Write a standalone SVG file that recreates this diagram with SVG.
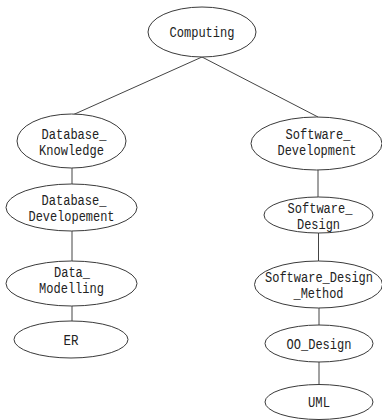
<svg xmlns="http://www.w3.org/2000/svg" width="382" height="420" viewBox="0 0 382 420">
<style>
  .n ellipse { fill: #ffffff; stroke: #3a3a3a; stroke-width: 1; }
  .n text { font-family: "Liberation Mono", "DejaVu Sans Mono", monospace; font-size: 14px; fill: #222222; text-anchor: middle; }
  #edges line { stroke: #444444; stroke-width: 1; }
</style>
<rect width="382" height="420" fill="#ffffff"/>
<g id="edges">
  <line x1="202" y1="57" x2="72.5" y2="115"/>
  <line x1="202" y1="57" x2="318" y2="117"/>
  <line x1="72" y1="168" x2="72" y2="184"/>
  <line x1="72" y1="231" x2="72" y2="261"/>
  <line x1="72" y1="306" x2="72" y2="321"/>
  <line x1="318" y1="170" x2="318" y2="197"/>
  <line x1="318.5" y1="233" x2="318.5" y2="261"/>
  <line x1="319" y1="308" x2="319" y2="325"/>
  <line x1="319" y1="362" x2="319" y2="385"/>
</g>
<g id="computing" class="n">
  <ellipse cx="202" cy="32" rx="54" ry="25"/>
  <text x="202" y="37" textLength="65" lengthAdjust="spacingAndGlyphs">Computing</text>
</g>
<g id="database_knowledge" class="n">
  <ellipse cx="71.5" cy="141" rx="54.5" ry="27"/>
  <text x="74" y="139" textLength="65" lengthAdjust="spacingAndGlyphs">Database_</text>
  <text x="71.5" y="155" textLength="65" lengthAdjust="spacingAndGlyphs">Knowledge</text>
</g>
<g id="software_development" class="n">
  <ellipse cx="316.5" cy="143.5" rx="65.5" ry="26.5"/>
  <text x="318" y="139" textLength="65" lengthAdjust="spacingAndGlyphs">Software_</text>
  <text x="317" y="155" textLength="79" lengthAdjust="spacingAndGlyphs">Development</text>
</g>
<g id="database_developement" class="n">
  <ellipse cx="71.5" cy="207.5" rx="65.5" ry="23.5"/>
  <text x="74" y="205" textLength="65" lengthAdjust="spacingAndGlyphs">Database_</text>
  <text x="71.5" y="221" textLength="86" lengthAdjust="spacingAndGlyphs">Developement</text>
</g>
<g id="data_modelling" class="n">
  <ellipse cx="71.5" cy="283.5" rx="65.5" ry="22.5"/>
  <text x="72" y="277" textLength="36" lengthAdjust="spacingAndGlyphs">Data_</text>
  <text x="71.5" y="293" textLength="65" lengthAdjust="spacingAndGlyphs">Modelling</text>
</g>
<g id="er" class="n">
  <ellipse cx="71" cy="339.5" rx="57" ry="18.5"/>
  <text x="71" y="345" textLength="15" lengthAdjust="spacingAndGlyphs">ER</text>
</g>
<g id="software_design" class="n">
  <ellipse cx="318.5" cy="215" rx="54.5" ry="18"/>
  <text x="320" y="213" textLength="65" lengthAdjust="spacingAndGlyphs">Software_</text>
  <text x="318.5" y="229" textLength="43" lengthAdjust="spacingAndGlyphs">Design</text>
</g>
<g id="software_design_method" class="n">
  <ellipse cx="318.5" cy="284.5" rx="64" ry="23.5"/>
  <text x="319" y="282" textLength="108" lengthAdjust="spacingAndGlyphs">Software_Design</text>
  <text x="318.5" y="298" textLength="50" lengthAdjust="spacingAndGlyphs">_Method</text>
</g>
<g id="oo_design" class="n">
  <ellipse cx="319" cy="343.5" rx="54" ry="18.5"/>
  <text x="319" y="349" textLength="65" lengthAdjust="spacingAndGlyphs">OO_Design</text>
</g>
<g id="uml" class="n">
  <ellipse cx="319" cy="402" rx="54" ry="17.5"/>
  <text x="319" y="407" textLength="22" lengthAdjust="spacingAndGlyphs">UML</text>
</g>
</svg>
